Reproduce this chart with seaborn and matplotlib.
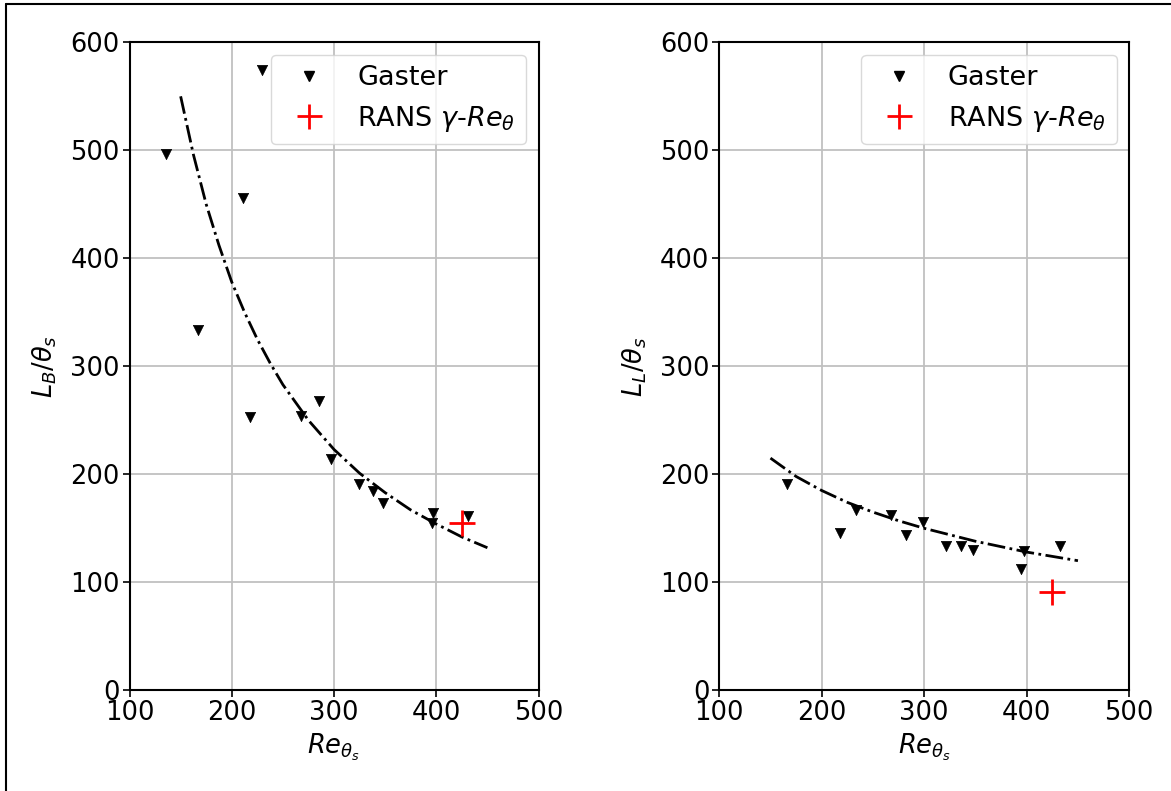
import numpy as np
import pandas as pd
import matplotlib
matplotlib.use("Agg")
import matplotlib.pyplot as plt
import seaborn as sns
from matplotlib.lines import Line2D

# ---- data ----
gaster_b_re = [136, 167, 211, 218, 230, 268, 285, 297, 324, 338, 348, 397, 396, 431]
gaster_b_L = [497, 334, 456, 253, 574, 254, 268, 214, 191, 185, 173, 164, 155, 161]
rans_b_re = [425]
rans_b_L = [155]
fit_b_re = [150, 162.5, 175, 187.5, 200, 212.5, 225, 237.5, 250, 275, 300, 325, 350, 375, 400, 425, 450]
fit_b_L = [550, 496, 450, 412, 378, 350, 325, 303, 283, 250, 223, 201, 183, 167, 154, 142, 132]

gaster_l_re = [166, 218, 233, 268, 282, 299, 321, 336, 348, 394, 397, 432]
gaster_l_L = [191, 146, 167, 162, 144, 156, 134, 134, 130, 112, 129, 134]
rans_l_re = [425]
rans_l_L = [91]
fit_l_re = [150, 175, 200, 225, 250, 275, 300, 325, 350, 375, 400, 425, 450]
fit_l_L = [215, 198, 185, 174, 165, 157, 150, 144, 138, 133, 128, 124, 120]

xticks = [100, 200, 300, 400, 500]
yticks = [0, 100, 200, 300, 400, 500, 600]
ylabels = [r"$L_B/\theta_s$", r"$L_L/\theta_s$"]
xlabel = r"$Re_{\theta_s}$"
legend_labels = ["Gaster", r"RANS $\gamma$-$Re_\theta$"]

sns.set_style("white")
plt.rcParams["font.family"] = ["DejaVu Sans"]
plt.rcParams["mathtext.fontset"] = "dejavusans"
for k in ["text.color", "axes.labelcolor", "xtick.color", "ytick.color"]:
    plt.rcParams[k] = "black"
FS = 18.5
LFS = 19.5

fig = plt.figure(figsize=(11.71, 7.91), dpi=100)
ax1 = fig.add_axes([0.1106, 0.1273, 0.3493, 0.8192])
ax2 = fig.add_axes([0.6142, 0.1273, 0.3501, 0.8192])

panels = [
    (ax1, gaster_b_re, gaster_b_L, rans_b_re, rans_b_L, fit_b_re, fit_b_L, ylabels[0]),
    (ax2, gaster_l_re, gaster_l_L, rans_l_re, rans_l_L, fit_l_re, fit_l_L, ylabels[1]),
]

for ax, gx, gy, rx, ry, fx, fy, yl in panels:
    ax.set_axisbelow(True)
    ax.grid(True, color="#c0c0c0", linewidth=1.3)
    sns.lineplot(x=fx, y=fy, ax=ax, color="black", linewidth=2.0,
                 linestyle="-.", sort=False, legend=False)
    sns.scatterplot(x=gx, y=gy, ax=ax, marker="v", color="black", s=55,
                    edgecolor="black", linewidth=0.5, label=legend_labels[0], zorder=3)
    sns.scatterplot(x=rx, y=ry, ax=ax, marker="+", color="red", s=330,
                    linewidth=2.0, label=legend_labels[1], zorder=4)
    ax.set_xlim(100, 500)
    ax.set_ylim(0, 600)
    ax.set_xticks(xticks)
    ax.set_yticks(yticks)
    ax.tick_params(axis="both", labelsize=FS, length=5, width=1.2, direction="out",
                   bottom=True, left=True, pad=2, colors="black")
    for sp in ax.spines.values():
        sp.set_visible(True)
        sp.set_color("black")
        sp.set_linewidth(1.5)
    ax.set_xlabel(xlabel, fontsize=FS, labelpad=4)
    ax.set_ylabel(yl, fontsize=FS, labelpad=8)
    handles = [
        Line2D([], [], marker="v", color="black", linestyle="none", markersize=7),
        Line2D([], [], marker="+", color="red", linestyle="none", markersize=18,
               markeredgewidth=2.0),
    ]
    ax.legend(handles, legend_labels, loc="upper right",
              fontsize=LFS, frameon=True, framealpha=0.8, edgecolor="#d0d0d0",
              handletextpad=0.8, handlelength=2.0, borderpad=0.4, labelspacing=0.45,
              borderaxespad=0.45)

# screenshot border (top and left)
fig.add_artist(Line2D([0.005, 1.0], [0.995, 0.995], transform=fig.transFigure,
                      color="black", linewidth=1.5))
fig.add_artist(Line2D([0.005, 0.005], [0.0, 0.995], transform=fig.transFigure,
                      color="black", linewidth=1.5))

fig.savefig("out.png", dpi=100)
